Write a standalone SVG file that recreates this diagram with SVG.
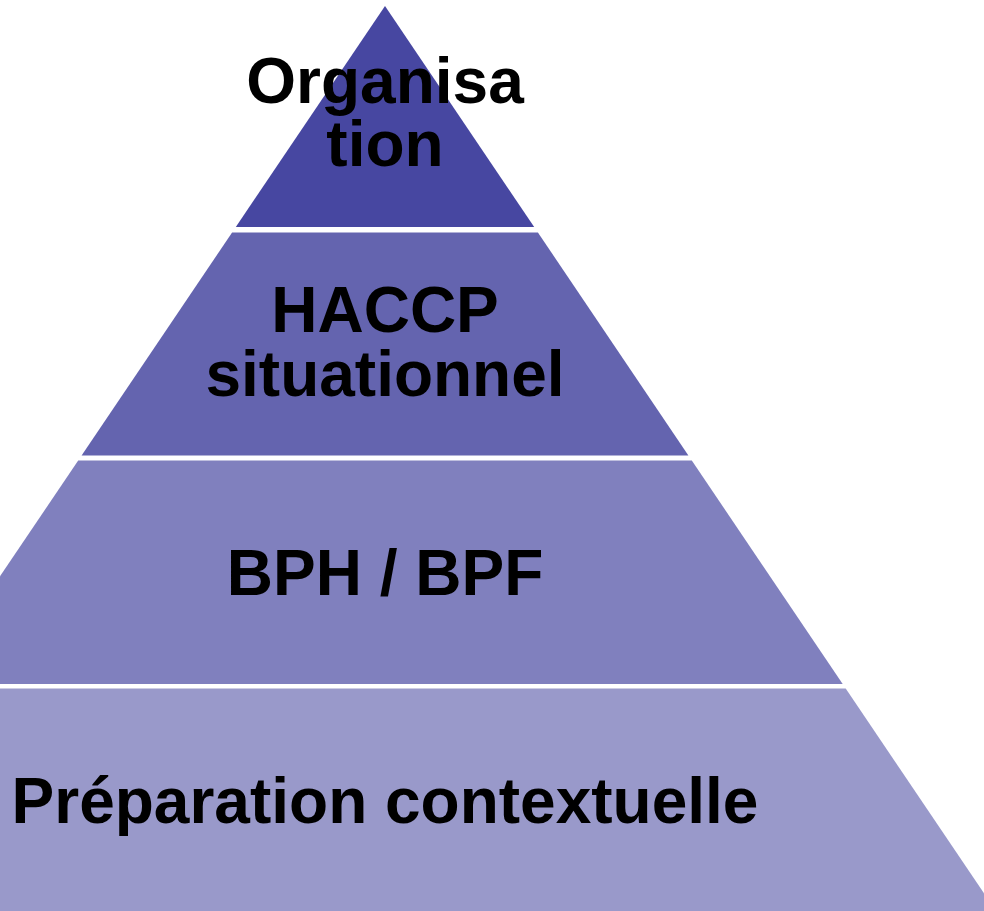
<svg xmlns="http://www.w3.org/2000/svg" width="984" height="911" viewBox="0 0 984 911">
<style>
.lbl{font-family:"Liberation Sans",Arial,sans-serif;font-weight:bold;font-size:64px;fill:#000;text-anchor:middle}
</style>
<rect width="984" height="911" fill="#fff"/>
<g id="layer-organisation">
<polygon points="385,6 534.2,227 235.8,227" fill="#4747A1"/>
<text class="lbl" x="385" y="103">Organisa<tspan x="385" y="166">tion</tspan></text>
</g>
<g id="layer-haccp">
<polygon points="232.1,232.5 537.9,232.5 688.4,455.5 81.6,455.5" fill="#6464AF"/>
<text class="lbl" x="385" y="332">HACCP<tspan x="385" y="396">situationnel</tspan></text>
</g>
<g id="layer-bph">
<polygon points="78.2,460.5 691.8,460.5 842.7,684 -72.7,684" fill="#8080BE"/>
<text class="lbl" x="385" y="595">BPH / BPF</text>
</g>
<g id="layer-preparation">
<polygon points="-75.7,688.5 845.7,688.5 995.9,911 -225.9,911" fill="#9999CA"/>
<text class="lbl" x="385" y="823">Préparation contextuelle</text>
</g>
<g id="connectors"></g>
</svg>
